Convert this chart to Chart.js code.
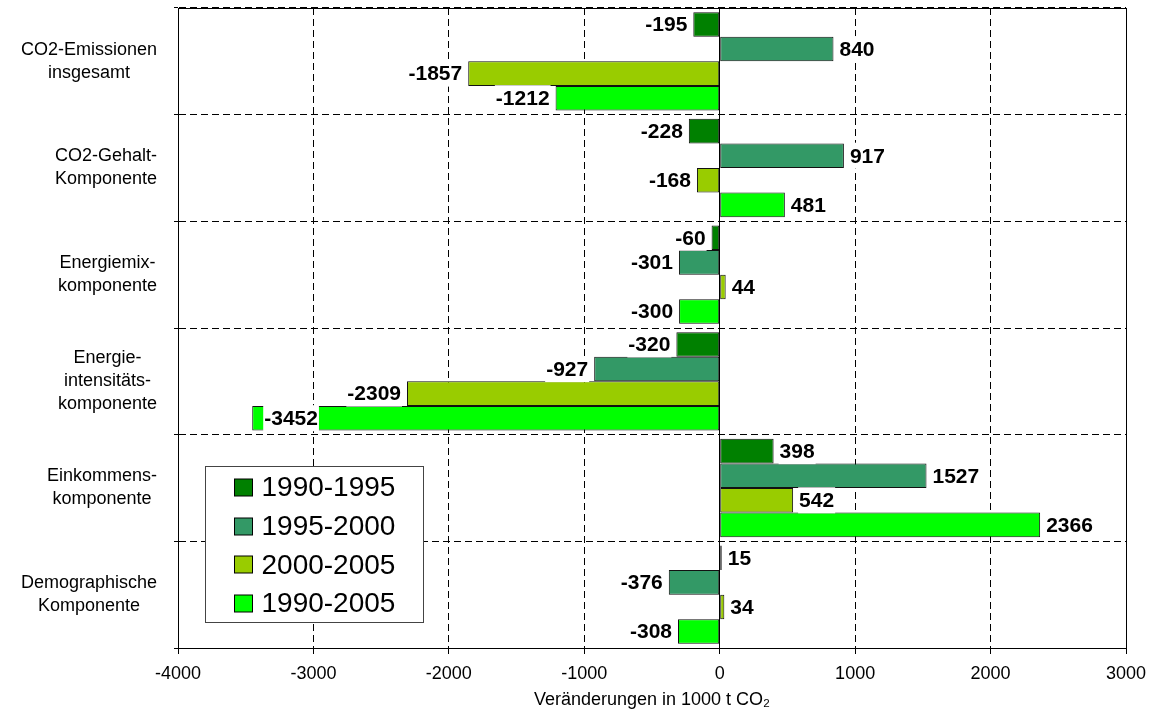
<!DOCTYPE html>
<html>
<head>
<meta charset="utf-8">
<script src="https://cdn.jsdelivr.net/npm/chart.js@4.4.1/dist/chart.umd.min.js"></script>
<style>
  html, body { margin: 0; padding: 0; background: #fff; }
</style>
</head>
<body>
<canvas id="chart" width="1149" height="709"></canvas>
<script>
// data
const categories = [
    ['CO2-Emissionen', 'insgesamt'],
    ['CO2-Gehalt-', 'Komponente'],
    ['Energiemix-', 'komponente'],
    ['Energie-', 'intensitäts-', 'komponente'],
    ['Einkommens-', 'komponente'],
    ['Demographische', 'Komponente']
];
const seriesNames = ['1990-1995', '1995-2000', '2000-2005', '1990-2005'];
const values1990to1995 = [-195, -228, -60, -320, 398, 15];
const values1995to2000 = [840, 917, -301, -927, 1527, -376];
const values2000to2005 = [-1857, -168, 44, -2309, 542, 34];
const values1990to2005 = [-1212, 481, -300, -3452, 2366, -308];
const seriesColors = ['#008000', '#339966', '#99CC00', '#00FF00'];
const xMin = -4000;
const xMax = 3000;
const xStep = 1000;
const axisTitle = 'Veränderungen in 1000 t CO₂';

const FONT = '"Liberation Sans", Arial, Helvetica, sans-serif';
Chart.defaults.font.family = FONT;
Chart.defaults.color = '#000';

const allValues = [values1990to1995, values1995to2000, values2000to2005, values1990to2005];
const DASH = [7, 4];

// plot frame, drawn under the bars
const framePlugin = {
    id: 'frame',
    beforeDatasetsDraw(chart) {
        const { ctx, chartArea: a } = chart;
        ctx.save();
        ctx.strokeStyle = '#000';
        ctx.lineWidth = 1;
        ctx.setLineDash([]);
        ctx.strokeRect(Math.round(a.left) + 0.5, Math.round(a.top) + 0.5, Math.round(a.right - a.left), Math.round(a.bottom - a.top));
        ctx.restore();
    }
};

// category labels: block right aligned, lines centered in the block
const categoryLabelPlugin = {
    id: 'categoryLabels',
    afterDraw(chart) {
        const { ctx } = chart;
        const y = chart.scales.y;
        ctx.save();
        ctx.font = '18px ' + FONT;
        ctx.fillStyle = '#000';
        ctx.textAlign = 'center';
        ctx.textBaseline = 'middle';
        categories.forEach((lines, i) => {
            const cy = y.getPixelForTick(i);
            const maxW = Math.max(...lines.map(l => ctx.measureText(l).width));
            const cx = y.right - 21 - maxW / 2;
            const lh = 23;
            lines.forEach((l, j) => {
                ctx.fillText(l, cx, cy + (j - (lines.length - 1) / 2) * lh);
            });
        });
        ctx.restore();
    }
};

// value labels with white boxes behind them
const valueLabelPlugin = {
    id: 'valueLabels',
    afterDatasetsDraw(chart) {
        const { ctx, chartArea: a } = chart;
        ctx.save();
        ctx.font = 'bold 21px ' + FONT;
        ctx.textBaseline = 'middle';
        ctx.textAlign = 'left';
        chart.data.datasets.forEach((ds, di) => {
            const meta = chart.getDatasetMeta(di);
            meta.data.forEach((bar, i) => {
                const v = ds.data[i];
                const text = String(v);
                const w = ctx.measureText(text).width;
                let x;
                if (v < 0) {
                    x = bar.x - 6 - w;
                    if (x < a.left + 80) x = bar.x + 12;   // no room outside: goes inside
                } else {
                    x = bar.x + 6;
                }
                ctx.fillStyle = '#fff';
                ctx.fillRect(x - 1, bar.y - 13, w + 2, 26);
                ctx.fillStyle = '#000';
                ctx.fillText(text, x, bar.y + 1);
            });
        });
        ctx.restore();
    }
};

// legend box inside the plot, bottom left
const legendBoxPlugin = {
    id: 'legendBox',
    afterDraw(chart) {
        const { ctx, chartArea: a } = chart;
        const bx = Math.round(a.left + 27) + 0.5;
        const by = Math.round(a.bottom - 182) + 0.5;
        ctx.save();
        ctx.fillStyle = '#fff';
        ctx.fillRect(bx, by, 218, 156);
        ctx.strokeStyle = '#444';
        ctx.lineWidth = 1;
        ctx.strokeRect(bx, by, 218, 156);
        ctx.font = '28px ' + FONT;
        ctx.textBaseline = 'middle';
        ctx.textAlign = 'left';
        chart.data.datasets.forEach((ds, k) => {
            const cy = by + 21 + k * 38.7;
            ctx.fillStyle = ds.backgroundColor;
            ctx.fillRect(bx + 29, Math.round(cy - 8.5), 18, 17);
            ctx.strokeStyle = '#000';
            ctx.strokeRect(bx + 29, Math.round(cy - 8.5), 18, 17);
            ctx.fillStyle = '#000';
            ctx.fillText(ds.label, bx + 56, cy + 1);
        });
        ctx.restore();
    }
};

new Chart(document.getElementById('chart'), {
    type: 'bar',
    data: {
        labels: categories,
        datasets: seriesNames.map((name, k) => ({
            label: name,
            data: allValues[k],
            backgroundColor: seriesColors[k],
            borderColor: '#111',
            borderWidth: 1,
            borderSkipped: false
        }))
    },
    options: {
        indexAxis: 'y',
        responsive: false,
        animation: false,
        devicePixelRatio: 1,
        layout: { padding: { top: 8, right: 23, left: 0, bottom: 0 } },
        datasets: { bar: { categoryPercentage: 0.922, barPercentage: 1 } },
        plugins: {
            legend: { display: false },
            tooltip: { enabled: false }
        },
        scales: {
            x: {
                min: xMin,
                max: xMax,
                ticks: {
                    stepSize: xStep, color: '#000', font: { size: 18 }, padding: 9, maxRotation: 0,
                    callback: v => String(v)
                },
                grid: { color: '#000', lineWidth: 1, tickLength: 6, tickColor: '#000' },
                border: {
                    display: true,
                    color: '#000',
                    dash: c => (c.tick && (c.tick.value === 0 || c.tick.value === xMin || c.tick.value === xMax)) ? [] : DASH
                },
                title: { display: true, text: axisTitle, color: '#000', font: { size: 18 }, padding: { top: 0, bottom: -2 } },
                afterFit(s) {
                    s.height = 61;
                    s.paddingRight = 0;
                    s.paddingLeft = 0;
                }
            },
            y: {
                ticks: { display: false },
                grid: { offset: true, color: '#000', lineWidth: 1, tickLength: 4, tickColor: '#000' },
                border: { display: true, color: '#000', dash: DASH },
                afterFit(s) { s.width = 178; }
            }
        }
    },
    plugins: [framePlugin, valueLabelPlugin, categoryLabelPlugin, legendBoxPlugin]
});
</script>
</body>
</html>
